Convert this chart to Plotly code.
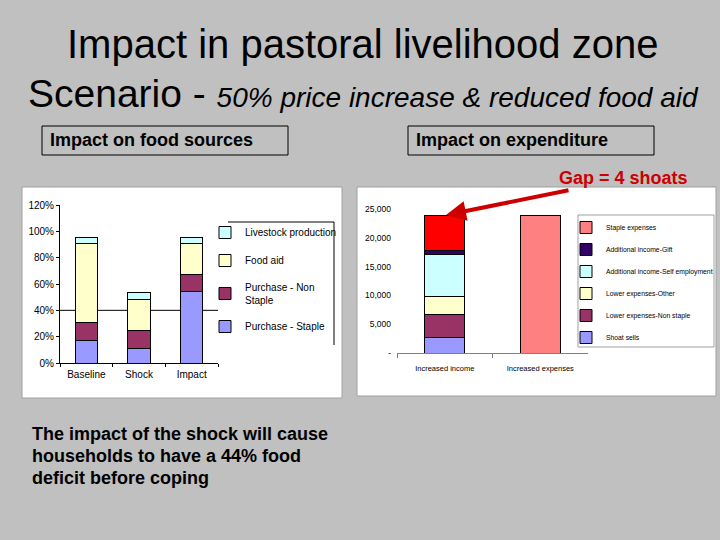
import plotly.graph_objects as go

# --- left chart: food sources (% of needs) ---
food_cats = ["Baseline", "Shock", "Impact"]
food_staple = [17, 11, 54]
food_non_staple = [14, 13.5, 13.5]
food_aid = [60, 23.5, 23.5]
food_livestock = [4.5, 5.5, 4.5]
food_ticks = [0, 20, 40, 60, 80, 100, 120]

# --- right chart: expenditure ---
exp_cats = ["Increased income", "Increased expenses"]
shoat_sells = [2700, 0]
lower_non_staple = [4050, 0]
lower_other = [3000, 0]
self_employment = [7350, 0]
gift = [700, 0]
gap = [6000, 0]
staple_expenses = [0, 23800]
exp_ticks = [0, 5000, 10000, 15000, 20000, 25000]

W, H = 720, 540
FONT = "Liberation Sans, Arial, sans-serif"
NARROW = "Liberation Sans Narrow, Arial Narrow, Liberation Sans, sans-serif"


def px(x):
    return x / W


def py(y):
    return 1 - y / H


fig = go.Figure()

line = dict(color="black", width=1)
food_series = [
    ("Purchase - Staple", food_staple, "#9999FF"),
    ("Purchase - Non<br>Staple", food_non_staple, "#993366"),
    ("Food aid", food_aid, "#FFFFCC"),
    ("Livestock production", food_livestock, "#CCFFFF"),
]
for i, (name, vals, col) in enumerate(food_series):
    fig.add_trace(go.Bar(x=food_cats, y=vals, name=name, marker=dict(color=col, line=line),
                         xaxis="x", yaxis="y", legend="legend", legendgroup=name,
                         legendrank=100 - i))

exp_series = [
    ("Shoat sells", shoat_sells, "#9999FF", True),
    ("Lower expenses-Non staple", lower_non_staple, "#993366", True),
    ("Lower expenses-Other", lower_other, "#FFFFCC", True),
    ("Additional income-Self employment", self_employment, "#CCFFFF", True),
    ("Additional income-Gift", gift, "#330066", True),
    ("Gap", gap, "#FF0000", False),
    ("Staple expenses", staple_expenses, "#FF8080", True),
]
for i, (name, vals, col, show) in enumerate(exp_series):
    fig.add_trace(go.Bar(x=exp_cats, y=vals, name=name, marker=dict(color=col, line=line),
                         xaxis="x2", yaxis="y2", legend="legend2", legendgroup=name,
                         showlegend=show, legendrank=100 - i))

axis_font = dict(family=FONT, size=10, color="black")
fig.update_layout(
    width=W, height=H,
    margin=dict(l=0, r=0, t=0, b=0, autoexpand=False),
    paper_bgcolor="#C0C0C0",
    plot_bgcolor="#C0C0C0",
    barmode="stack",
    bargap=0.58,
    font=dict(family=FONT, color="black"),
    xaxis=dict(domain=[px(60), px(218)], anchor="y", showline=True, linecolor="black",
               ticks="outside", tickson="boundaries", ticklen=3, tickcolor="black",
               tickfont=axis_font, ticklabelstandoff=2),
    yaxis=dict(domain=[py(363), py(205)], anchor="x", range=[0, 120], tickvals=food_ticks,
               ticktext=[f"{t}%" for t in food_ticks], showgrid=False, zeroline=False,
               showline=True, linecolor="black", ticks="outside", ticklen=3,
               tickcolor="black", tickfont=axis_font),
    xaxis2=dict(domain=[px(397), px(588)], anchor="y2", showline=True, linecolor="#808080",
                ticks="outside", tickson="boundaries", ticklen=4, tickcolor="#808080",
                tickfont=dict(family=NARROW, size=7.5, color="black"),
                ticklabelstandoff=8),
    yaxis2=dict(domain=[py(353), py(209)], anchor="x2", range=[0, 25000], tickvals=exp_ticks,
                ticktext=["-"] + [f"{t:,}" for t in exp_ticks[1:]], showgrid=False,
                zeroline=False, showline=False, ticks="", ticklabelstandoff=5,
                tickfont=dict(family=NARROW, size=8.5, color="black")),
    legend=dict(x=px(205), y=py(218), xanchor="left", yanchor="top",
                traceorder="grouped", tracegroupgap=9, bgcolor="rgba(0,0,0,0)",
                itemwidth=30, font=dict(family=FONT, size=10, color="black")),
    legend2=dict(x=px(566), y=py(213), xanchor="left", yanchor="top",
                 traceorder="grouped", tracegroupgap=3, bgcolor="rgba(0,0,0,0)",
                 itemwidth=30, font=dict(family=NARROW, size=6.8, color="black")),
)

# white chart frames and slide boxes
fig.add_shape(type="rect", xref="paper", yref="paper", x0=px(22), x1=px(342), y0=py(398), y1=py(187),
              fillcolor="white", line=dict(color="#A0A0A0", width=1), layer="below")
fig.add_shape(type="rect", xref="paper", yref="paper", x0=px(357), x1=px(716), y0=py(396), y1=py(187),
              fillcolor="white", line=dict(color="#A0A0A0", width=1), layer="below")
fig.add_shape(type="rect", xref="paper", yref="paper", x0=px(578), x1=px(714), y0=py(347), y1=py(215),
              line=dict(color="#A0A0A0", width=1), layer="below")
fig.add_shape(type="rect", xref="paper", yref="paper", x0=px(42), x1=px(288), y0=py(155), y1=py(126),
              line=dict(color="black", width=1))
fig.add_shape(type="rect", xref="paper", yref="paper", x0=px(408), x1=px(654), y0=py(155), y1=py(126),
              line=dict(color="black", width=1))
# partial legend frame of left chart
fig.add_shape(type="path", xref="paper", yref="paper",
              path=f"M {px(228)},{py(222)} L {px(334)},{py(222)} L {px(334)},{py(345)}",
              line=dict(color="black", width=1))
# single gridline at 40%
fig.add_shape(type="line", xref="x domain", yref="y", x0=0, x1=1, y0=40, y1=40,
              line=dict(color="black", width=1), layer="below")


def note(x, y, text, size, color="black", xanchor="center"):
    fig.add_annotation(x=px(x), y=py(y), xref="paper", yref="paper", xanchor=xanchor,
                       yanchor="middle", showarrow=False, text=text,
                       font=dict(size=size, family=FONT, color=color))


note(362, 44, "Impact in pastoral livelihood zone", 40)
note(363, 93, "Scenario - <i><span style='font-size:28px'>50% price increase &amp; reduced food aid</span></i>", 39)
note(48, 140, "<b>Impact on food sources</b>", 18, xanchor="left")
note(414, 140, "<b>Impact on expenditure</b>", 18, xanchor="left")
note(623, 178, "<b>Gap = 4 shoats</b>", 18, color="#CC0000")
for i, t in enumerate(["The impact of the shock will cause",
                       "households to have a 44% food",
                       "deficit before coping"]):
    note(30, 434 + 22 * i, f"<b>{t}</b>", 18, xanchor="left")

fig.add_annotation(x=px(446), y=py(215), xref="paper", yref="paper", text="", showarrow=True,
                   ax=570 - 446, ay=190 - 215, arrowhead=2, arrowsize=1, arrowwidth=4,
                   arrowcolor="#CC0000")

fig.write_html("out.html", config={"displayModeBar": False},
               post_script="document.body.style.margin='0';")
